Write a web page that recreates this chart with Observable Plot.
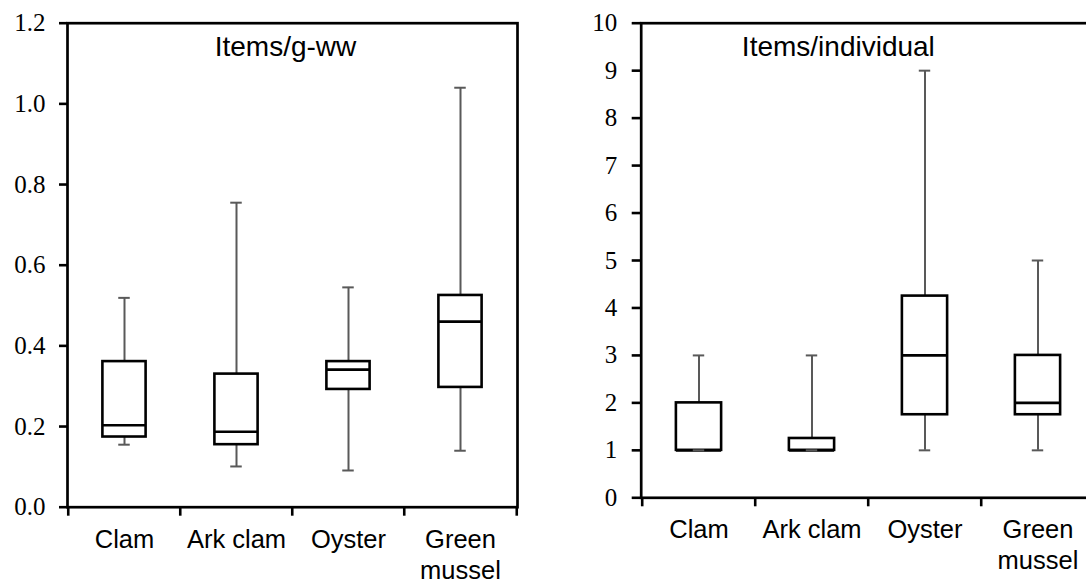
<!DOCTYPE html>
<html>
<head>
<meta charset="utf-8">
<script src="https://cdn.jsdelivr.net/npm/d3@7"></script>
<script src="https://cdn.jsdelivr.net/npm/@observablehq/plot@0.6"></script>
<style>
  html, body { margin: 0; padding: 0; background: #fff; overflow: hidden; }
  #page { position: relative; width: 1086px; height: 582px; overflow: hidden; background: #fff; }
  #left { position: absolute; left: 0; top: 0; width: 540px; height: 582px; }
  #right { position: absolute; left: 560px; top: 0; width: 540px; height: 582px; }
  #page svg { max-width: none !important; display: block; }
  #page g[aria-label="y-axis tick label"] text,
  #page g[aria-label="y-axis tick label"] { font-family: 'Liberation Serif', 'Times New Roman', serif !important; }
</style>
</head>
<body>
<div id="page"><div id="left"></div><div id="right"></div></div>
<script>
// ---- data ----
const categories = ["Clam", "Ark clam", "Oyster", "Green mussel"];
const categoryLabels = ["Clam", "Ark clam", "Oyster", "Green\nmussel"];

// Items/g-ww
const gwwMin = [0.155, 0.101, 0.091, 0.140];
const gwwQ1  = [0.174, 0.155, 0.292, 0.297];
const gwwMed = [0.203, 0.187, 0.341, 0.460];
const gwwQ3  = [0.361, 0.330, 0.361, 0.525];
const gwwMax = [0.519, 0.755, 0.545, 1.040];
const gwwTicks = [0, 0.2, 0.4, 0.6, 0.8, 1.0, 1.2];

// Items/individual
const indMin = [1, 1, 1, 1];
const indQ1  = [1, 1, 1.75, 1.75];
const indMed = [1, 1, 3, 2];
const indQ3  = [2, 1.25, 4.25, 3];
const indMax = [3, 3, 9, 5];
const indTicks = [0, 1, 2, 3, 4, 5, 6, 7, 8, 9, 10];

const titles = ["Items/g-ww", "Items/individual"];

// ---- helpers ----
function rows(mn, q1, md, q3, mx) {
  return categories.map((c, i) => ({cat: c, min: mn[i], q1: q1[i], med: md[i], q3: q3[i], max: mx[i]}));
}
const labelOf = Object.fromEntries(categories.map((c, i) => [c, categoryLabels[i]]));
const sans = "Liberation Sans, Arial, Helvetica, sans-serif";
const serif = "Liberation Serif, Times New Roman, serif";
const gray = "#595959";

function panel({data, yDomain, yTicks, yFormat, title, width, height, ml, mr, mt, mb,
                boxWidth, capWidth, ytickSize, ytickPad, xtickSize, xlabPad, tdx, tdy}) {
  const bw = (width - ml - mr) / categories.length;
  const boxInset = (bw - boxWidth) / 2;
  const capInset = (bw - capWidth) / 2;
  return Plot.plot({
    width, height,
    marginLeft: ml, marginRight: mr, marginTop: mt, marginBottom: mb,
    style: {background: "transparent", color: "black", overflow: "visible"},
    x: {type: "band", domain: categories, padding: 0, axis: null, label: null},
    y: {domain: yDomain, axis: null, label: null},
    marks: [
      Plot.ruleX(data, {x: "cat", y1: "min", y2: "max", stroke: gray, strokeWidth: 2}),
      Plot.barY(data, {x: "cat", y1: "q1", y2: "q3", fill: "white", stroke: "black", strokeWidth: 2.6,
                       insetLeft: boxInset, insetRight: boxInset}),
      Plot.tickY(data, {x: "cat", y: "med", stroke: "black", strokeWidth: 2.6,
                        insetLeft: boxInset, insetRight: boxInset}),
      Plot.tickY(data, {x: "cat", y: "min", stroke: gray, strokeWidth: 2, insetLeft: capInset, insetRight: capInset}),
      Plot.tickY(data, {x: "cat", y: "max", stroke: gray, strokeWidth: 2, insetLeft: capInset, insetRight: capInset}),
      Plot.frame({stroke: "black", strokeWidth: 2.7}),
      // y axis
      Plot.axisY({ticks: yTicks, tickFormat: yFormat, tickSize: ytickSize, tickPadding: ytickPad, label: null,
                  fontFamily: serif, fontSize: 25, strokeWidth: 2.6, stroke: "black"}),
      // x boundary ticks
      Plot.axisX({ticks: categories, tickFormat: () => "", tickSize: xtickSize, dx: -bw / 2, label: null,
                  strokeWidth: 2.6, stroke: "black"}),
      Plot.axisX({ticks: [categories[categories.length - 1]], tickFormat: () => "", tickSize: xtickSize, dx: bw / 2,
                  label: null, strokeWidth: 2.6, stroke: "black"}),
      // x labels
      Plot.axisX({ticks: categories, tickFormat: d => labelOf[d], tickSize: 0, tickPadding: xlabPad, label: null,
                  fontFamily: sans, fontSize: 25.5, lineHeight: 1.2, fill: "black"}),
      // panel title
      Plot.text([title], {text: d => d, frameAnchor: "top", lineAnchor: "top", dx: tdx, dy: tdy,
                          fontFamily: sans, fontSize: 28, fill: "black"})
    ]
  });
}

const left = panel({
  data: rows(gwwMin, gwwQ1, gwwMed, gwwQ3, gwwMax),
  yDomain: [0, 1.2], yTicks: gwwTicks, yFormat: d3.format(".1f"), title: titles[0],
  width: 540, height: 582, ml: 67, mr: 23, mt: 22.7, mb: 75.3,
  boxWidth: 43.7, capWidth: 12, ytickSize: 8, ytickPad: 14, xtickSize: 9, xlabPad: 19,
  tdx: -7, tdy: 13.1
});
document.getElementById("left").appendChild(left);

const right = panel({
  data: rows(indMin, indQ1, indMed, indQ3, indMax),
  yDomain: [0, 10], yTicks: indTicks, yFormat: d3.format("d"), title: titles[1],
  width: 540, height: 582, ml: 80.7, mr: 5, mt: 22.7, mb: 84.7,
  boxWidth: 45.8, capWidth: 12, ytickSize: 9, ytickPad: 15, xtickSize: 9, xlabPad: 18.5,
  tdx: -30, tdy: 13.4
});
document.getElementById("right").appendChild(right);
</script>
</body>
</html>
